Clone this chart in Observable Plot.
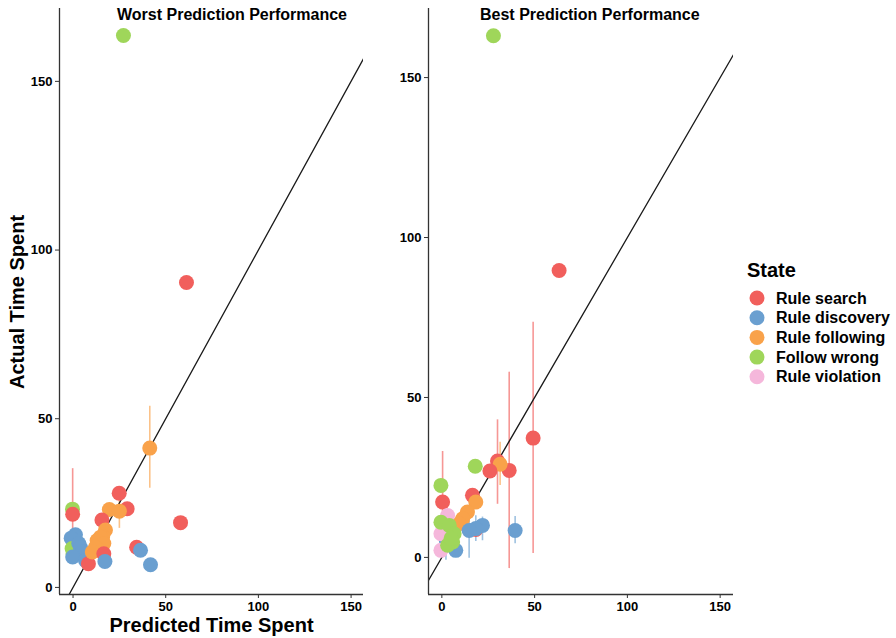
<!DOCTYPE html>
<html><head><meta charset="utf-8">
<script src="https://cdn.jsdelivr.net/npm/d3@7"></script>
<script src="https://cdn.jsdelivr.net/npm/@observablehq/plot@0.6"></script>
<style>
body{margin:0;background:#fff;font-family:"Liberation Sans",Arial,sans-serif;}
#wrap{position:relative;width:896px;height:638px;overflow:hidden;background:#fff;}
#wrap > svg{position:absolute;top:0;}
</style></head><body><div id="wrap"></div>
<script>
// ---- categories & colours ----
const states = ["Rule search", "Rule discovery", "Rule following", "Follow wrong", "Rule violation"];
const stateColors = ["#F15F5C", "#6A9FD0", "#F9A24A", "#9FD65A", "#F5B7DB"];
const xTicks = [0, 50, 100, 150];
const yTicks = [0, 50, 100, 150];
const refLine = [-20, 200]; // y = x reference

// ---- Worst Prediction Performance ----
const worstState  = ["Follow wrong","Rule search","Rule following","Follow wrong","Rule search",
  "Rule search","Rule search","Rule following","Rule following","Rule search","Rule search",
  "Rule following","Rule discovery","Rule discovery","Follow wrong","Follow wrong","Rule discovery",
  "Rule discovery","Rule discovery","Rule discovery","Rule discovery","Rule search","Rule following",
  "Rule following","Rule following","Rule following","Rule following","Rule following","Rule search",
  "Rule discovery","Rule search","Rule discovery","Rule discovery"];
const worstPred   = [27.2, 61.2, 41.4, -0.3, -0.2, 24.9, 29.2, 19.6, 25.0, 15.6, 58.0,
  17.5, 1.3, -1.0, -0.5, 0.0, 3.1, 4.0, 5.0, -0.2, 6.7, 8.3, 16.0,
  14.8, 13.0, 16.6, 12.1, 10.4, 16.6, 17.2, 34.3, 36.4, 41.8];
const worstActual = [163.6, 90.4, 41.3, 23.2, 21.7, 27.9, 23.3, 23.1, 22.6, 20.0, 19.2,
  17.0, 15.6, 14.6, 11.5, 10.0, 13.0, 11.8, 10.5, 9.0, 8.0, 7.0, 15.0,
  14.9, 13.9, 13.0, 11.9, 10.5, 10.0, 7.7, 11.9, 11.0, 6.7];
const worstLow    = [null, null, 29.4, null, 9.0, null, null, null, 17.5, null, null,
  null, null, null, null, null, null, null, null, null, null, null, null,
  null, null, null, null, null, null, null, null, null, null];
const worstHigh   = [null, null, 53.7, null, 35.2, null, null, null, 26.4, null, null,
  null, null, null, null, null, null, null, null, null, null, null, null,
  null, null, null, null, null, null, null, null, null, null];

// ---- Best Prediction Performance ----
const bestState  = ["Follow wrong","Rule search","Rule search","Rule search","Rule search",
  "Rule following","Rule search","Follow wrong","Follow wrong","Rule search","Rule search",
  "Rule following","Rule following","Rule following","Rule following","Rule search",
  "Rule discovery","Rule discovery","Rule discovery","Rule discovery","Rule discovery","Rule discovery",
  "Rule discovery","Rule violation","Rule violation","Rule violation","Follow wrong","Follow wrong",
  "Follow wrong","Follow wrong","Follow wrong","Follow wrong"];
const bestPred   = [27.8, 63.2, 49.2, 36.3, 30.0, 31.4, 25.9, 18.0, -0.5, 0.4, 16.5,
  18.3, 13.8, 11.2, 9.3, 18.3,
  39.5, 21.9, 18.3, 14.7, 7.5, 2.2, 2.5,
  3.1, -0.5, -0.5, -0.5, 4.0, 6.6, 5.8, 3.1, 5.0];
const bestActual = [163.1, 89.7, 37.3, 27.2, 30.1, 29.1, 27.0, 28.5, 22.5, 17.3, 19.4,
  17.3, 14.2, 12.1, 10.5, 8.7,
  8.4, 10.0, 9.0, 8.4, 2.2, 6.9, 5.0,
  13.1, 7.4, 2.2, 11.0, 10.0, 7.4, 4.8, 3.8, 6.0];
const bestLow    = [null, null, 1.2, -3.5, 16.6, 22.5, null, null, null, 10.0, null,
  null, null, null, null, null,
  4.3, 5.2, 5.0, -0.3, null, -0.9, null,
  null, null, null, null, null, null, null, null, null];
const bestHigh   = [null, null, 73.5, 57.9, 43.0, 36.0, null, null, null, 33.1, null,
  null, null, null, null, null,
  12.8, 12.6, 13.0, 12.0, null, 4.8, null,
  null, null, null, null, null, null, null, null, null];

function rows(st, px, ac, lo, hi) {
  return st.map((s, i) => ({state: s, pred: px[i], actual: ac[i], lo: lo[i], hi: hi[i]}));
}

function panel({data, xDomain, yDomain, width, marginLeft, marginRight}) {
  const bars = data.filter(d => d.lo != null);
  return Plot.plot({
    width, height: 638, marginLeft, marginRight, marginTop: 8, marginBottom: 44,
    x: {domain: xDomain},
    y: {domain: yDomain},
    color: {domain: states, range: stateColors},
    style: {fontFamily: "Liberation Sans, Arial, sans-serif", fontSize: "13px", fontWeight: "bold", color: "#000", background: "transparent", overflow: "visible"},
    marks: [
      Plot.ruleX(bars, {x: "pred", y1: "lo", y2: "hi", stroke: "state", strokeWidth: 1.6, strokeOpacity: 0.65}),
      Plot.line(refLine, {x: d => d, y: d => d, stroke: "#1a1a1a", strokeWidth: 1.3, clip: true}),
      Plot.dot(data, {x: "pred", y: "actual", fill: "state", r: 7.5}),
      Plot.axisX(xTicks, {tickSize: 4, tickPadding: 3, stroke: "#333", fill: "#000", label: null, fontSize: 13}),
      Plot.axisY(yTicks, {tickSize: 4, tickPadding: 3, stroke: "#333", fill: "#000", label: null, fontSize: 13}),
      Plot.ruleX([xDomain[0]], {stroke: "#333", strokeWidth: 1.3}),
      Plot.ruleY([yDomain[0]], {stroke: "#333", strokeWidth: 1.3})
    ]
  });
}

const wrap = document.getElementById("wrap");

const left = panel({
  data: rows(worstState, worstPred, worstActual, worstLow, worstHigh),
  xDomain: [-7.3, 156.7], yDomain: [-2.1, 171.6],
  width: 380, marginLeft: 59, marginRight: 17
});
left.style.left = "0px";
wrap.appendChild(left);

const right = panel({
  data: rows(bestState, bestPred, bestActual, bestLow, bestHigh),
  xDomain: [-7.2, 157.2], yDomain: [-11.6, 171.6],
  width: 370, marginLeft: 48, marginRight: 17
});
right.style.left = "380px";
wrap.appendChild(right);

// ---- titles, axis titles, legend ----
const ov = d3.select(wrap).append("svg")
  .attr("width", 896).attr("height", 638)
  .style("left", "0px").style("pointer-events", "none")
  .attr("font-family", "Liberation Sans, Arial, sans-serif")
  .attr("font-weight", "bold").attr("fill", "#000");

ov.append("text").attr("x", 117).attr("y", 19.5).attr("font-size", 16).text("Worst Prediction Performance");
ov.append("text").attr("x", 480).attr("y", 19.5).attr("font-size", 16).text("Best Prediction Performance");
ov.append("text").attr("x", 211.5).attr("y", 632).attr("font-size", 20).attr("text-anchor", "middle").text("Predicted Time Spent");
ov.append("text").attr("transform", "translate(24,302) rotate(-90)").attr("font-size", 20).attr("text-anchor", "middle").text("Actual Time Spent");

const lg = ov.append("g");
lg.append("text").attr("x", 747).attr("y", 277).attr("font-size", 20).text("State");
states.forEach((s, i) => {
  const cy = 298 + i * 19.7;
  lg.append("circle").attr("cx", 757).attr("cy", cy).attr("r", 7.5).attr("fill", stateColors[i]);
  lg.append("text").attr("x", 776).attr("y", cy + 5.5).attr("font-size", 16).text(s);
});
</script></body></html>
